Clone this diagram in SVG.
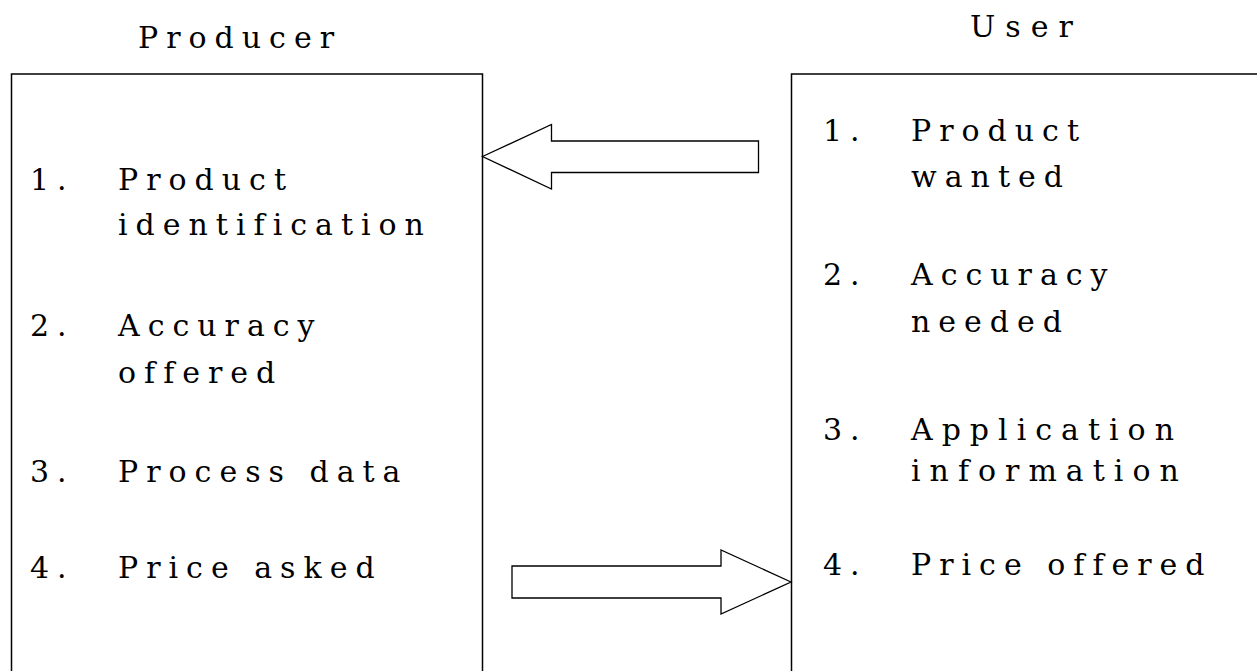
<svg xmlns="http://www.w3.org/2000/svg" width="1257" height="671" viewBox="0 0 1257 671">
<style>
.t{font-family:'DejaVu Serif','Liberation Serif',serif;font-size:30px;fill:#000;letter-spacing:8px}
.box{fill:#fff;stroke:#000;stroke-width:1.5}
.arrow{fill:#fff;stroke:#000;stroke-width:1.3;stroke-linejoin:miter}
</style>
<rect width="1257" height="671" fill="#fff"/>
<g id="producer" class="t">
<text x="138" y="48" letter-spacing="8">Producer</text>
<rect class="box" x="11.5" y="74" width="471" height="620"/>
<text x="30" y="190">1.</text><text x="118" y="190">Product</text>
<text x="118" y="235">identification</text>
<text x="30" y="336">2.</text><text x="118" y="336">Accuracy</text>
<text x="118" y="383">offered</text>
<text x="30" y="482">3.</text><text x="118" y="482">Process data</text>
<text x="30" y="578">4.</text><text x="118" y="578">Price asked</text>
</g>
<g id="user" class="t">
<text x="970" y="37" letter-spacing="10">User</text>
<rect class="box" x="791.5" y="74" width="480" height="620"/>
<text x="823" y="141">1.</text><text x="911" y="141">Product</text>
<text x="911" y="187">wanted</text>
<text x="823" y="285">2.</text><text x="911" y="285">Accuracy</text>
<text x="911" y="332">needed</text>
<text x="823" y="440">3.</text><text x="911" y="440" letter-spacing="9">Application</text>
<text x="911" y="481" letter-spacing="9">information</text>
<text x="823" y="575">4.</text><text x="911" y="575">Price offered</text>
</g>
<g id="connectors">
<polygon class="arrow" points="482.5,156.5 551.5,124.5 551.5,141 758.5,141 758.5,172.5 551.5,172.5 551.5,189"/>
<polygon class="arrow" points="791,582 721,550 721,566 512,566 512,598 721,598 721,614"/>
</g>
</svg>
